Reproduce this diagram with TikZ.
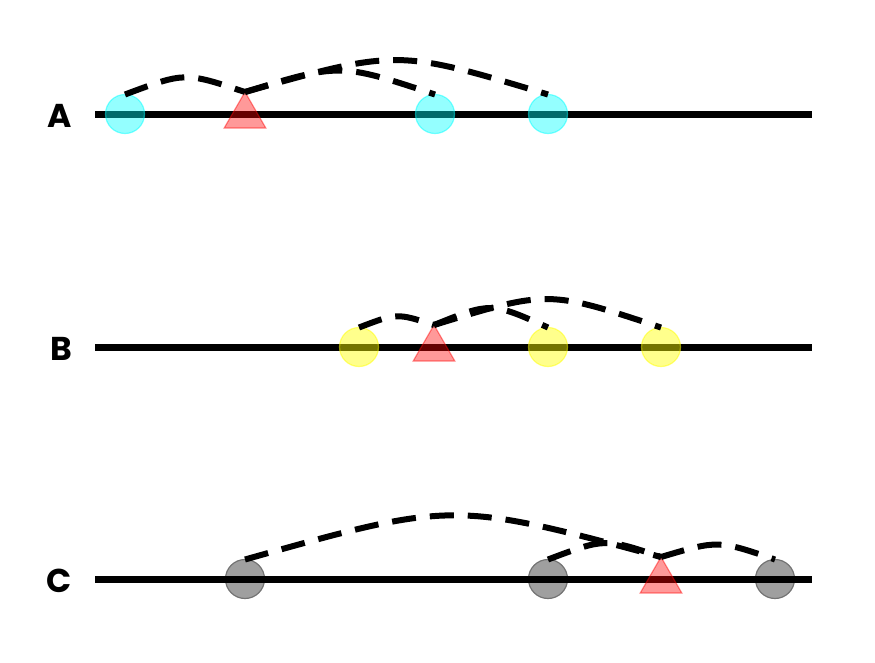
\documentclass[tikz,border=0pt]{standalone}
\usepackage{fontspec}
\setmainfont{Poppins}
\usetikzlibrary{shapes.geometric}
\definecolor{mcyan}{RGB}{0,255,255}
\definecolor{myellow}{RGB}{255,255,0}
\definecolor{mred}{RGB}{255,0,0}
\tikzset{
  track/.style={line width=7pt},
  lbl/.style={anchor=east, inner sep=0pt, font=\fontsize{33}{33}\selectfont\bfseries},
  dot/.style={circle, minimum size=39pt, inner sep=0pt, outer sep=0pt, line width=1.2pt},
  cyandot/.style={dot, fill=mcyan, fill opacity=0.42, draw=mcyan, draw opacity=0.5},
  yellowdot/.style={dot, fill=myellow, fill opacity=0.45, draw=myellow, draw opacity=0.5},
  graydot/.style={dot, fill=gray!75, draw=black!55},
  tri/.style={regular polygon, regular polygon sides=3, minimum size=48pt, inner sep=0pt, outer sep=0pt,
     fill=mred, fill opacity=0.4, draw=mred, draw opacity=0.45, line width=1.2pt},
  link/.style={line width=6pt, dash pattern=on 24pt off 14pt}
}
\begin{document}
\begin{tikzpicture}[x=1pt,y=-1pt]
\useasboundingbox (0,0) rectangle (875,662);
% ---- row A
\node[lbl] (la) at (72,116) {A};
\coordinate (a0) at (95,114);
\coordinate (a1) at (812,114);
\draw[track] (a0) -- (a1);
\node[cyandot] (ac1) at (125,114) {};
\node[cyandot] (ac2) at (435,114) {};
\node[cyandot] (ac3) at (548,114) {};
\node[tri] (at) at (245,116) {};
\draw[link] (ac1.north) .. controls (185,72) .. (at.corner 1);
\draw[link] (at.corner 1) .. controls (340,63) .. (ac2.north);
\draw[link] (at.corner 1) .. controls (397,49) .. (ac3.north);
% ---- row B
\node[lbl] (lb) at (72,349) {B};
\coordinate (b0) at (95,347);
\coordinate (b1) at (812,347);
\draw[track] (b0) -- (b1);
\node[yellowdot] (bc1) at (359,347) {};
\node[yellowdot] (bc2) at (548,347) {};
\node[yellowdot] (bc3) at (661,347) {};
\node[tri] (bt) at (434,349) {};
\draw[link] (bc1.north) .. controls (397,313) .. (bt.corner 1);
\draw[link] (bt.corner 1) .. controls (491,302) .. (bc2.north);
\draw[link] (bt.corner 1) .. controls (548,290) .. (bc3.north);
% ---- row C
\node[lbl] (lc) at (72,581) {C};
\node[graydot] (cc1) at (245,579) {};
\node[graydot] (cc2) at (548,579) {};
\node[graydot] (cc3) at (775,579) {};
\coordinate (c0) at (95,579);
\coordinate (c1) at (812,579);
\draw[track] (c0) -- (c1);
\node[tri] (ct) at (661,581) {};
\draw[link] (cc1.north) .. controls (453,501) .. (ct.corner 1);
\draw[link] (cc2.north) .. controls (605,538) .. (ct.corner 1);
\draw[link] (ct.corner 1) .. controls (718,540) .. (cc3.north);
\end{tikzpicture}
\end{document}
